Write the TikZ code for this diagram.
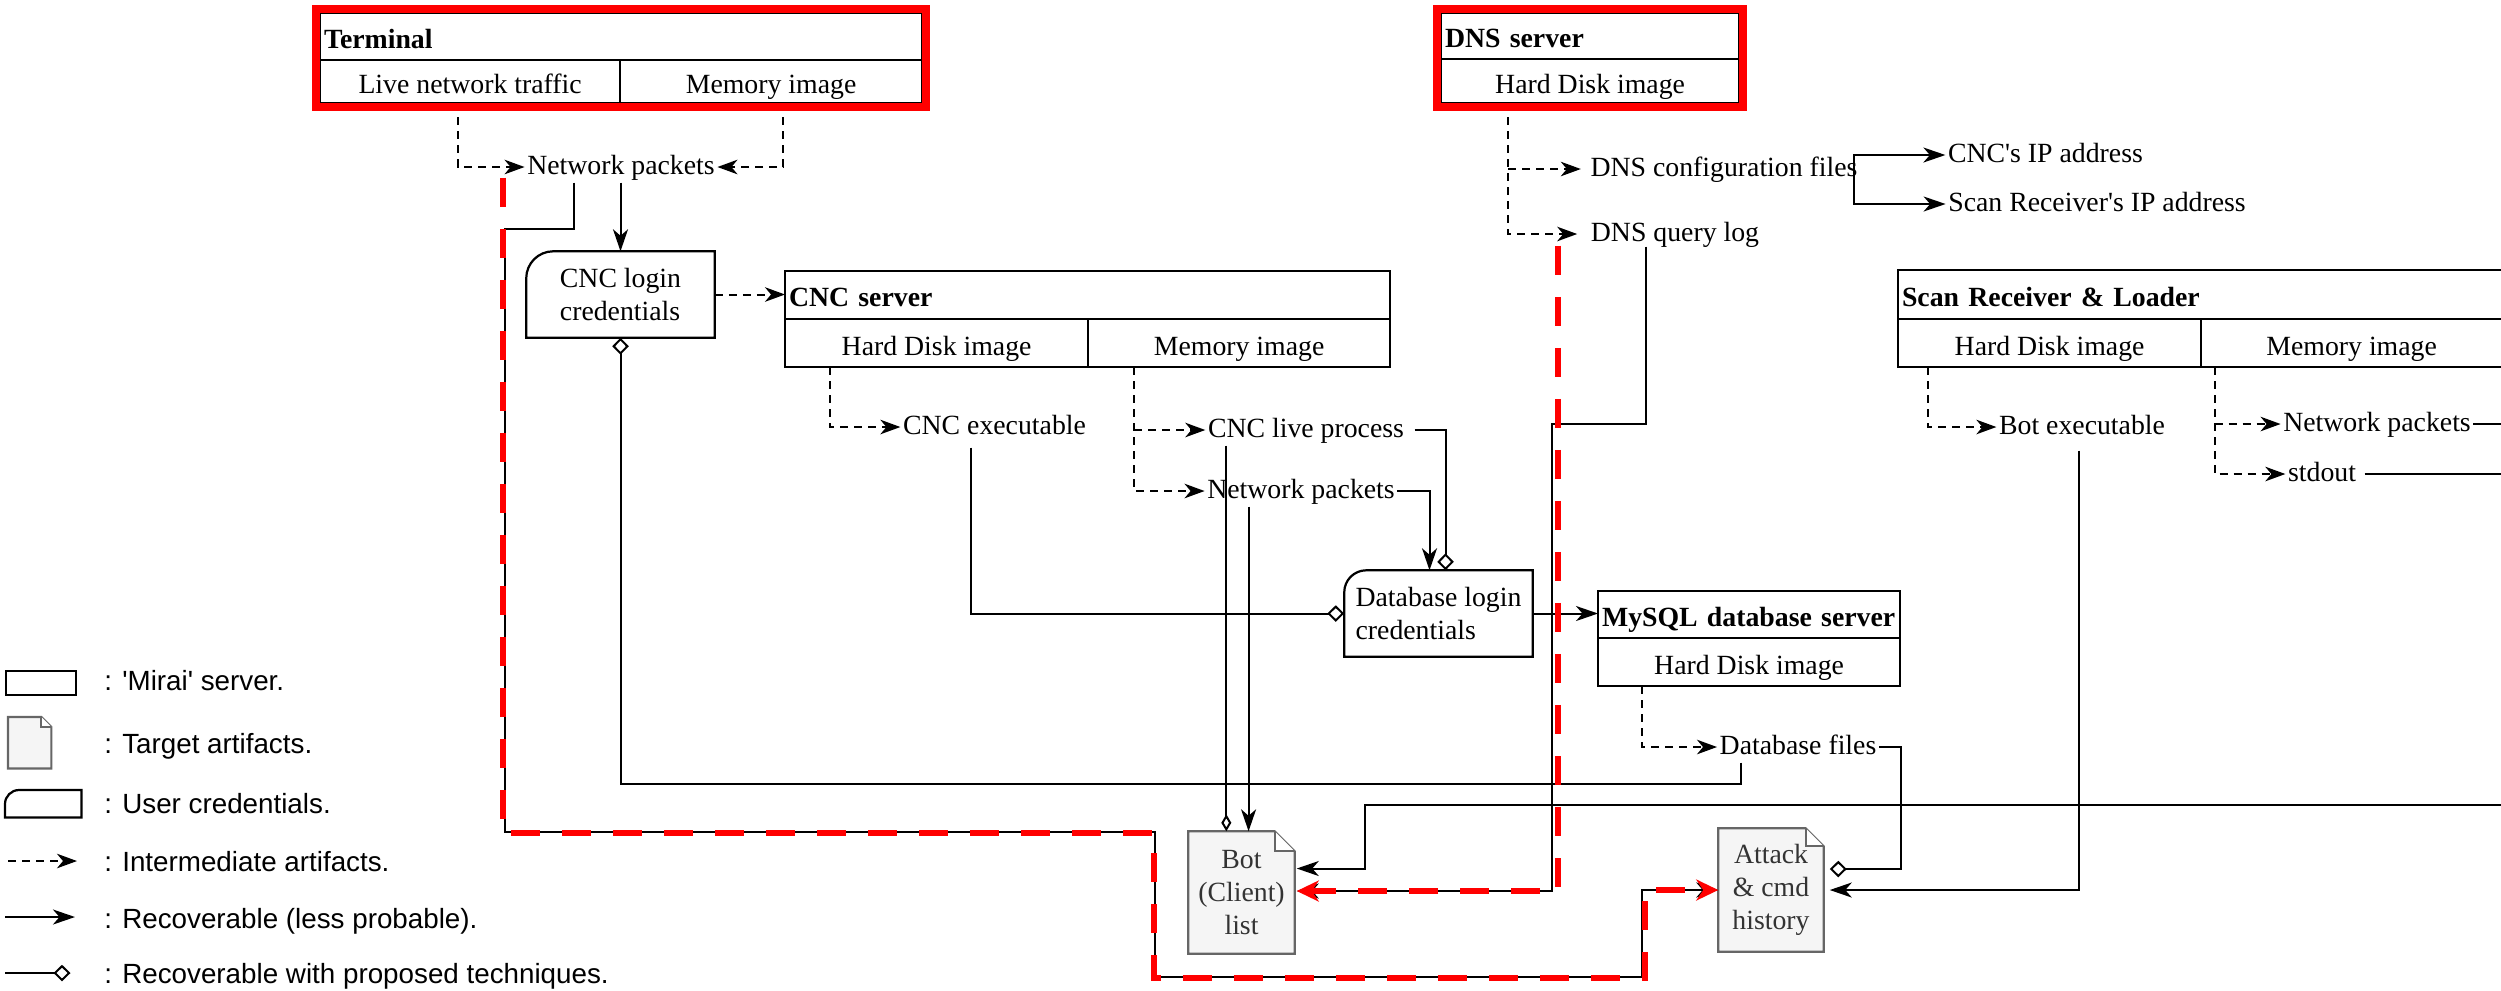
\documentclass[tikz,border=0pt]{standalone}
\usepackage{fontspec}
\setmainfont{Liberation Serif}
\newfontfamily\legendfont{Liberation Sans}
\usetikzlibrary{arrows.meta,backgrounds}

\definecolor{docfill}{HTML}{F5F5F5}
\definecolor{docline}{HTML}{666666}
\definecolor{doctext}{HTML}{333333}
\definecolor{trail}{HTML}{FF0000}

% credentials box: rectangle with one rounded (top-left) corner
\newcommand\credoutline[2]{%
  \draw[boxline] (#1.south west) -- ([shift={(0,#2)}]#1.north west)
    .. controls ([shift={(0,0.448*#2)}]#1.north west) and ([shift={(0.448*#2,0)}]#1.north west)
    .. ([shift={(#2,0)}]#1.north west) -- (#1.north east) -- (#1.south east) -- cycle;}

% document icon with folded top-right corner
\newcommand\docoutline[2]{%
  \draw[docstroke] (#1.south west) -- (#1.north west) -- ([shift={(-#2,0)}]#1.north east)
    -- ([shift={(0,#2)}]#1.north east) -- (#1.south east) -- cycle;
  \draw[docstroke, fill=white] ([shift={(-#2,0)}]#1.north east) -- ([shift={(-#2,#2)}]#1.north east)
    -- ([shift={(0,#2)}]#1.north east);}

\tikzset{
  txt/.style={font=\fontsize{7.9pt}{9.4pt}\selectfont},
  boxline/.style={draw=black, line width=0.63pt},
  hdr/.style={draw, line width=0.63pt, anchor=north west, outer sep=0pt, inner xsep=0.04cm,
    inner ysep=0pt, align=left, text height=0.25cm, text depth=0.02cm,
    font=\fontsize{7.9pt}{9.4pt}\selectfont\bfseries},
  cell/.style={txt, draw, line width=0.63pt, anchor=north west, outer sep=0pt, inner sep=0pt,
    text height=0.26cm, text depth=0.02cm},
  art/.style={txt, inner xsep=0.02cm, inner ysep=0.02cm, text height=0.2cm, text depth=0.06cm},
  cred/.style={txt, align=left, inner sep=0pt, minimum width=1.87cm, minimum height=0.85cm},
  doc/.style={txt, text=doctext, align=center, inner sep=0pt},
  docstroke/.style={draw=docline, line width=0.6pt, fill=docfill},
  interm/.style={line width=0.57pt, dash pattern=on 0.08cm off 0.06cm,
    -{Stealth[length=0.2cm, width=0.145cm, inset=0.06cm]}},
  recov/.style={line width=0.57pt, -{Stealth[length=0.22cm, width=0.15cm, inset=0.065cm]}},
  recovp/.style={line width=0.57pt, -{Diamond[open, length=0.17cm, width=0.165cm]}},
  recovthin/.style={line width=0.57pt, -{Diamond[open, length=0.17cm, width=0.10cm]}},
  plain/.style={line width=0.57pt},
  trailpath/.style={draw=trail, line width=0.06cm, dash pattern=on 0.29cm off 0.22cm,
    -{Stealth[length=0.22cm, width=0.21cm, inset=0.07cm]}},
  redframe/.style={draw=trail, line width=0.076cm},
  lgtxt/.style={font=\legendfont\fontsize{7.9pt}{9.4pt}\selectfont, anchor=base west, inner sep=0pt},
}

\begin{document}
\begin{tikzpicture}[x=0.01cm, y=-0.01cm]
\useasboundingbox (0,0) rectangle (2501,990);

% ---------- servers ----------
\node[hdr, text width=5.94cm, minimum height=0.47cm] (termH) at (320,13) {Terminal};
\node[cell, minimum width=3.00cm, minimum height=0.43cm] (termL) at (320,60) {Live network traffic};
\node[cell, minimum width=3.02cm, minimum height=0.43cm] (termM) at (620,60) {Memory image};

\node[hdr, text width=2.90cm, minimum height=0.46cm] (dnsH) at (1441,13) {DNS server};
\node[cell, minimum width=2.98cm, minimum height=0.44cm] (dnsHD) at (1441,59) {Hard Disk image};

\node[hdr, text width=5.97cm, minimum height=0.48cm] (cncH) at (785,271) {CNC server};
\node[cell, minimum width=3.03cm, minimum height=0.48cm] (cncHD) at (785,319) {Hard Disk image};
\node[cell, minimum width=3.02cm, minimum height=0.48cm] (cncMem) at (1088,319) {Memory image};

\node[hdr, text width=2.94cm, minimum height=0.47cm] (sqlH) at (1598,591) {MySQL database server};
\node[cell, minimum width=3.02cm, minimum height=0.48cm] (sqlHD) at (1598,638) {Hard Disk image};

\node[hdr, text width=5.96cm, minimum height=0.49cm] (scanH) at (1898,270) {Scan Receiver \& Loader};
\node[cell, minimum width=3.03cm, minimum height=0.48cm] (scanHD) at (1898,319) {Hard Disk image};
\node[cell, minimum width=3.01cm, minimum height=0.48cm] (scanMem) at (2201,319) {Memory image};

% ---------- credentials ----------
\node[cred] (cncCred) at (620.5,294.5) {CNC login\\credentials};
\credoutline{cncCred}{27}
\node[cred] (dbCred) at (1438.5,613.5) {Database login\\credentials};
\credoutline{dbCred}{22}

% ---------- target artifacts ----------
\node[doc, minimum width=1.05cm, minimum height=1.21cm] (botList) at (1241.5,892.5) {Bot\\(Client)\\list};
\node[doc, minimum width=1.04cm, minimum height=1.22cm] (atkHist) at (1771,890) {Attack\\\& cmd\\history};

% ---------- intermediate artifacts ----------
\node[art] (npT) at (621,167) {Network packets};
\node[art] (cncExe) at (994.5,427) {CNC executable};
\node[art] (cncLive) at (1306,430) {CNC live process};
\node[art] (npC) at (1301,491) {Network packets};
\node[art] (dnsConf) at (1724,169) {DNS configuration files};
\node[art] (dnsLog) at (1675,234) {DNS query log};
\node[art] (cncIP) at (2045.5,155) {CNC\textquotesingle s IP address};
\node[art] (scanIP) at (2097,204) {Scan Receiver\textquotesingle s IP address};
\node[art] (botExe) at (2082,427) {Bot executable};
\node[art] (npS) at (2377,424) {Network packets};
\node[art] (stdOut) at (2322,474) {stdout};
\node[art] (dbFiles) at (1798,747) {Database files};

% ---------- legend ----------
\node[draw, line width=0.63pt, minimum width=0.70cm, minimum height=0.24cm, inner sep=0pt,
  anchor=north west] (lgServer) at (5,670) {};
\node[lgtxt] (lgServerT) at (103.6,690.7) {: \textquotesingle Mirai\textquotesingle{} server.};
\node[doc, minimum width=0.42cm, minimum height=0.50cm, anchor=north west] (lgDoc) at (8,717) {};
\node[lgtxt] (lgDocT) at (103.6,753) {: Target artifacts.};
\node[cred, minimum width=0.75cm, minimum height=0.26cm, anchor=north west] (lgCred) at (5,790) {};
\credoutline{lgCred}{14}
\node[lgtxt] (lgCredT) at (103.6,813) {: User credentials.};
\node[lgtxt] (lgIntT) at (103.6,871) {: Intermediate artifacts.};
\node[lgtxt] (lgRecT) at (103.6,928) {: Recoverable (less probable).};
\node[lgtxt] (lgPropT) at (103.6,983) {: Recoverable with proposed techniques.};
\coordinate (lgI0) at (8,861);   \coordinate (lgI1) at (77,861);
\coordinate (lgR0) at (5,917);   \coordinate (lgR1) at (75,917);
\coordinate (lgP0) at (5,973);   \coordinate (lgP1) at (70.5,973);
\draw[interm] (lgI0) -- (lgI1);
\draw[recov] (lgR0) -- (lgR1);
\draw[recovp] (lgP0) -- (lgP1);

\begin{pgfonlayer}{background}
  \docoutline{botList}{20}
  \docoutline{atkHist}{18}
  \docoutline{lgDoc}{10}
\end{pgfonlayer}

% ---------- dashed: images to intermediate artifacts ----------
\draw[interm] ([shift={(-12,0)}]termL.south) |- (npT.west);
\draw[interm] ([shift={(12,0)}]termM.south) |- (npT.east);
\draw[interm] (cncCred.east) -- (cncCred.east -| cncH.west);
\draw[interm] ([shift={(45,0)}]cncHD.south west) |- (cncExe.west);
\coordinate (cm0) at ([shift={(46,0)}]cncMem.south west);
\draw[interm] (cm0) |- (npC.west);
\draw[interm] (cm0 |- cncLive.west) -- (cncLive.west);
\coordinate (dh0) at ([shift={(67,0)}]dnsHD.south west);
\coordinate (dcT) at ([shift={(-7,0)}]dnsConf.west);
\coordinate (dlT) at ([shift={(-11,0)}]dnsLog.west);
\draw[interm] (dh0) |- (dlT);
\draw[interm] (dh0 |- dcT) -- (dcT);
\draw[interm] ([shift={(44,0)}]sqlHD.south west) |- (dbFiles.west);
\draw[interm] ([shift={(30,0)}]scanHD.south west) |- (botExe.west);
\coordinate (sm0) at ([shift={(13.5,0)}]scanMem.south west);
\draw[interm] (sm0) |- (stdOut.west);
\draw[interm] (sm0 |- npS.west) -- (npS.west);

% ---------- solid: recoverable ----------
\draw[recov] (npT.south -| cncCred.north) -- (cncCred.north);
\coordinate (dc0) at ([shift={(-6,0)}]dnsConf.east);
\draw[recov] (dc0) |- (cncIP.west);
\draw[recov] (dc0) |- (scanIP.west);
\draw[recov] (npC.east) -| ([shift={(-9,0)}]dbCred.north);
\draw[recov] (dbCred.east) -- (dbCred.east -| sqlH.west);
\coordinate (nc0) at ([shift={(44,0)}]npC.south west);
\draw[recov] (nc0) -- (nc0 |- botList.north);
\coordinate (be0) at ([shift={(-3,8)}]botExe.south);
\draw[recov] (be0) |- ([shift={(6,0)}]atkHist.east);
\coordinate (trunk) at (2501.6,805);
\draw[recov] (npS.east) -| (trunk) -| ([shift={(70,-24)}]botList.east) -- ([shift={(2,-24)}]botList.east);
\draw[plain] ([shift={(6,0)}]stdOut.east) -- (stdOut.east -| trunk);
\coordinate (dl0) at ([shift={(-29,-3)}]dnsLog.south);
\draw[recov] (dl0) |- (1552,424) |- ([shift={(2,-1.5)}]botList.east);
\coordinate (nt0) at ([shift={(-47,0)}]npT.south);
\draw[recov] (nt0) -- ++(0,46) -| (505,832) -| (1155,977) -| (1642,890) -- (atkHist.west);

% ---------- diamond: recoverable with proposed techniques ----------
\draw[recovp] ([shift={(8,0)}]cncLive.east) -| ([shift={(7,0)}]dbCred.north);
\coordinate (ce0) at ([shift={(-24,5)}]cncExe.south);
\draw[recovp] (ce0) |- (dbCred.west);
\coordinate (df0) at ([shift={(-57,0)}]dbFiles.south);
\draw[recovp] (df0) -- ++(0,21) -| (cncCred.south);
\draw[recovp] (dbFiles.east) -- ++(22,0) |- ([shift={(6,-21)}]atkHist.east);
\coordinate (cl0) at ([shift={(21,0)}]cncLive.south west);
\draw[recovthin] (cl0) -- (cl0 |- botList.north);

% ---------- red trails ----------
\coordinate (tt0) at ([shift={(-22,-5)}]npT.south west);
\draw[trailpath] (tt0) |- (1154,833) |- (1645,977.5) |- (atkHist.west);
\coordinate (dt0) at ([shift={(-30,-4)}]dnsLog.south west);
\draw[trailpath] (dt0) |- ([shift={(2,-1.5)}]botList.east);

\draw[redframe] ([shift={(-4,-4)}]termH.north west) rectangle ([shift={(4,4)}]termM.south east);
\draw[redframe] ([shift={(-4,-4)}]dnsH.north west) rectangle ([shift={(4,4)}]dnsHD.south east);
\end{tikzpicture}
\end{document}
